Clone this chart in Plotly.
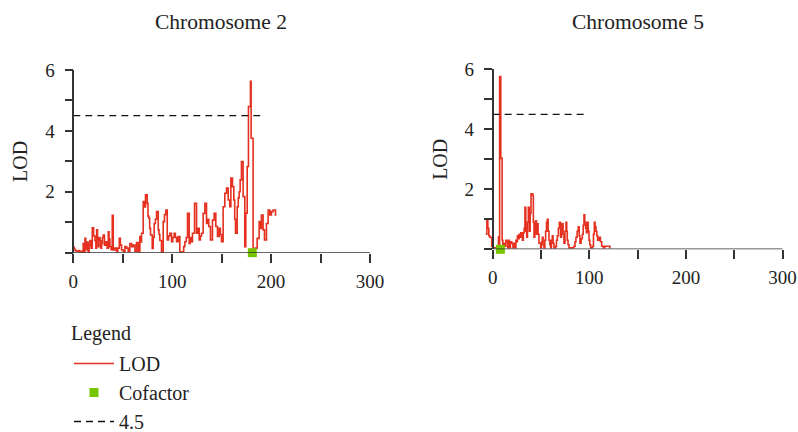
import plotly.graph_objects as go

# ---------------- data ----------------
chr2_pos = [0, 1, 1.7, 3, 5, 6.5, 8.4, 9, 10, 11, 11.8, 12.6, 13.5, 14, 15, 16, 16.8, 18, 19.2, 20.5, 21.9,
            22.8, 23.6, 24.5, 25.3, 26, 27, 27.8, 28.6, 29.5, 30.3, 31.5, 33, 34.2, 35.4, 36.2, 37, 38.2,
            39.4, 40.4, 42, 43.8, 45, 46.5, 47.6, 48.8, 50.5, 52.2, 53.9, 55.5, 57.2, 59, 60.6, 62.3, 64,
            65.7, 67.3, 68.2, 69, 70.7, 71.8, 73, 74.7, 75.5, 76.4, 77.2, 78.1, 79.8, 80.8, 81.8, 83, 84.2,
            85.9, 86.7, 87.5, 89.2, 90.9, 92.2, 93.6, 95, 96.3, 97.6, 99.3, 100.6, 102, 103.2, 104.4, 106,
            107.7, 110.4, 111.6, 112.8, 114.2, 115.5, 117.2, 118.3, 119.5, 120.5, 122.6, 124.6, 125.9,
            127.3, 128.5, 129.6, 131.3, 133, 134.7, 135.8, 137, 138.7, 140.7, 142.4, 144.1, 145.8, 147.5,
            148.7, 149.8, 151.5, 153.2, 154.9, 156.6, 158.2, 159.3, 160.9, 162.3, 163.2, 164, 165.7, 166.8,
            167.7, 168.7, 170, 171.7, 173.4, 174.4, 175.8, 177.1, 178, 179.1, 179.8, 180.8, 181.8, 183.8,
            185.9, 187.9, 189, 190.2, 191.9, 193.3, 195.3, 197, 198.7, 200.3, 202, 204.4, 205.5]
chr2_lod = [0.18, 0.12, 0.07, 0.05, 0.07, 0.03, 0.05, 0.0, 0.3, 0.0, 0.47, 0.2, 0.1, 0.35, 0.0, 0.25, 0.4, 0.15,
            0.82, 0.55, 0.4, 0.15, 0.75, 0.45, 0.2, 0.5, 0.4, 0.15, 0.3, 0.5, 0.58, 0.25, 0.36, 0.15, 0.69,
            0.45, 0.2, 0.1, 1.23, 0.09, 0.15, 0.03, 0.15, 0.47, 0.25, 0.09, 0.05, 0.2, 0.15, 0.05, 0.3, 0.2,
            0.25, 0.05, 0.33, 0.03, 0.53, 0.35, 0.64, 1.68, 1.5, 1.9, 1.62, 1.2, 1.13, 0.8, 0.58, 0.14, 0.5,
            0.96, 1.1, 1.35, 0.75, 0.6, 0.4, 0.0, 1.02, 1.25, 1.4, 0.42, 0.55, 0.64, 0.36, 0.5, 0.64, 0.5,
            0.36, 0.53, 0.03, 0.03, 0.2, 0.36, 0.5, 1.29, 0.3, 0.5, 0.36, 0.64, 1.62, 0.64, 0.8, 0.42, 0.55,
            0.64, 1.29, 1.62, 0.96, 1.1, 0.86, 0.42, 1.07, 1.29, 0.86, 0.53, 0.8, 0.6, 0.36, 1.51, 1.95,
            2.12, 1.73, 1.51, 2.45, 2.17, 1.73, 1.1, 0.64, 1.51, 1.8, 2.0, 2.39, 2.99, 1.84, 0.2, 1.3, 2.83,
            4.8, 4.8, 5.63, 3.76, 3.76, 0.03, 0.15, 0.47, 1.02, 0.8, 1.24, 0.75, 0.42, 0.96, 1.4, 1.24,
            1.35, 1.4, 1.24, 1.24]

chr5_pos = [-7.2, -6, -5, -4, -3, -1, 0, 2, 4, 5, 6, 6.8, 7.2, 8.4, 9.8, 10.5, 11.5, 12.8, 13.6, 14.5, 15.6,
            16.4, 17.2, 18.4, 19.7, 21, 22, 23, 24, 24.8, 25.6, 26.5, 27.4, 28.3, 29.1, 30, 30.8, 31.7, 32.6,
            33.4, 34.3, 35.2, 36, 36.9, 37.9, 38.8, 39.7, 41.4, 42.1, 42.8, 43.6, 44.5, 45.3, 46.2, 47, 47.9,
            49.7, 50.5, 51.4, 52.2, 53.1, 54, 54.8, 55.7, 56.6, 57.4, 58.3, 59.2, 60, 60.8, 61.7, 62.5, 63.4,
            65.2, 66, 66.9, 68, 69, 70.3, 71.2, 72, 72.9, 73.8, 74.8, 75.9, 76.6, 77.2, 78, 79, 81.7, 84.1,
            85.2, 86.2, 87.4, 88.6, 89.5, 90.3, 91.5, 92.8, 93.7, 94.5, 95.3, 96.2, 97, 97.9, 98.8, 99.7,
            100.5, 101.4, 103.4, 104.3, 105.2, 106, 106.9, 107.8, 108.6, 110.3, 111.5, 112.8, 114.5, 116,
            117.9, 119.7, 121.4, 122]
chr5_lod = [0.5, 0.95, 0.7, 0.45, 0.4, 0.1, 0.05, 0.05, 0.05, 0.1, 0.42, 0.1, 5.76, 3.03, 0.3, 0.05, 0.2, 0.1,
            0.3, 0.25, 0.05, 0.3, 0.05, 0.25, 0.2, 0.05, 0.2, 0.05, 0.3, 0.25, 0.45, 0.35, 0.5, 0.4, 0.55,
            0.5, 0.3, 0.55, 0.7, 1.4, 0.6, 0.4, 0.9, 1.4, 0.6, 1.2, 1.85, 1.8, 0.9, 0.4, 0.7, 0.95, 0.5,
            0.85, 0.5, 0.2, 0.05, 0.25, 0.4, 0.15, 0.05, 0.3, 0.6, 0.9, 1.0, 0.6, 0.3, 0.15, 0.05, 0.3,
            0.45, 0.2, 0.05, 0.1, 0.3, 0.45, 0.7, 0.9, 0.4, 0.6, 0.85, 0.5, 0.2, 0.6, 0.9, 0.6, 0.3, 0.15,
            0.05, 0.05, 0.1, 0.25, 0.4, 0.6, 0.75, 0.45, 0.2, 0.35, 0.5, 0.8, 1.15, 0.9, 0.7, 0.55, 0.9,
            0.6, 0.3, 0.15, 0.05, 0.1, 0.5, 0.9, 0.75, 0.6, 0.45, 0.3, 0.4, 0.25, 0.1, 0.05, 0.1, 0.1, 0.1,
            0.05, 0.05]

chr2_cofactor_pos = [181]
chr5_cofactor_pos = [8]
cofactor_lod = [0]

threshold = 4.5
chr2_thresh_x = [0, 189]
chr5_thresh_x = [0, 98]

panel_titles = ["Chromosome 2", "Chromosome 5"]
x_tickvals = [0, 50, 100, 150, 200, 250, 300]
x_ticktext = ["0", "", "100", "", "200", "", "300"]
y_tickvals = [0, 1, 2, 3, 4, 5, 6]
y_ticktext = ["", "", "2", "", "4", "", "6"]

# ---------------- style ----------------
RED = "#e5301f"
GREEN = "#77c400"
AXIS = "#333333"
TXT = "#222222"
FONT = "Liberation Serif"
W, H = 798, 432
XR = [-10, 302]

left_dom = [63.4 / W, 372 / W]
right_dom = [483 / W, 784.5 / W]
left_ydom = [(H - 252.7) / H, (H - 70) / H]
right_ydom = [(H - 249.3) / H, (H - 69.3) / H]


def zero_pos(dom):
    return dom[0] + (dom[1] - dom[0]) * (0 - XR[0]) / (XR[1] - XR[0])


fig = go.Figure()

panels = [
    ("x", "y", chr2_pos, chr2_lod, chr2_cofactor_pos, chr2_thresh_x, True),
    ("x2", "y2", chr5_pos, chr5_lod, chr5_cofactor_pos, chr5_thresh_x, False),
]
for xa, ya, pos, lod, cof, thx, show in panels:
    fig.add_trace(go.Scatter(x=pos, y=lod, mode="lines", name="LOD",
                             line=dict(color=RED, width=1.6, shape="hv"), xaxis=xa, yaxis=ya,
                             showlegend=show, legendrank=1))
    fig.add_trace(go.Scatter(x=cof, y=cofactor_lod * len(cof), mode="markers", name="Cofactor",
                             marker=dict(symbol="square", color=GREEN, size=9, line=dict(width=0)),
                             cliponaxis=False, xaxis=xa, yaxis=ya, showlegend=show, legendrank=2))
    fig.add_trace(go.Scatter(x=thx, y=[threshold, threshold], mode="lines", name="4.5",
                             line=dict(color="#111111", width=1.3, dash="7px,5px"),
                             xaxis=xa, yaxis=ya, showlegend=show, legendrank=3))
    fig.add_shape(type="line", x0=0, x1=300, y0=0, y1=0, xref=xa, yref=ya,
                  line=dict(color=AXIS, width=1.5), layer="above")

xcommon = dict(range=XR, showline=False, showgrid=False, zeroline=False, automargin=False,
               tickmode="array", tickvals=x_tickvals, ticktext=x_ticktext,
               ticks="outside", ticklen=9, tickwidth=1.5, tickcolor=AXIS,
               ticklabelstandoff=2,
               tickfont=dict(family=FONT, size=19, color=TXT))
ycommon = dict(range=[0, 6], showline=True, linecolor=AXIS, linewidth=1.5, automargin=False,
               showgrid=False, zeroline=False, tickmode="array",
               tickvals=y_tickvals, ticktext=y_ticktext, ticks="outside",
               ticklen=8, tickwidth=1.5, tickcolor=AXIS, ticklabelstandoff=6,
               tickfont=dict(family=FONT, size=19, color=TXT),
               title=dict(text="LOD", font=dict(family=FONT, size=20, color=TXT), standoff=11))

fig.update_layout(
    width=W, height=H,
    margin=dict(l=0, r=0, t=0, b=0, autoexpand=False),
    paper_bgcolor="white", plot_bgcolor="white",
    xaxis=dict(domain=left_dom, anchor="y", **xcommon),
    yaxis=dict(domain=left_ydom, anchor="free", position=zero_pos(left_dom), **ycommon),
    xaxis2=dict(domain=right_dom, anchor="y2", **xcommon),
    yaxis2=dict(domain=right_ydom, anchor="free", position=zero_pos(right_dom), **ycommon),
    showlegend=True,
    legend=dict(x=69 / W, y=1 - 344 / H, xanchor="left", yanchor="top",
                font=dict(family=FONT, size=20, color=TXT),
                bgcolor="rgba(0,0,0,0)", itemwidth=40, tracegroupgap=0),
)

fig.add_annotation(text="Legend", x=69 / W, y=1 - 333 / H, xref="paper", yref="paper",
                   showarrow=False, xanchor="left", yanchor="middle",
                   font=dict(family=FONT, size=20, color=TXT))
for title, cx in zip(panel_titles, [221, 638]):
    fig.add_annotation(text=title, x=cx / W, y=1 - 22 / H, xref="paper", yref="paper",
                       showarrow=False, xanchor="center", yanchor="middle",
                       font=dict(family=FONT, size=21.5, color=TXT))

fig.write_html("out.html", config={"displayModeBar": False},
               post_script="document.body.style.margin='0';")
